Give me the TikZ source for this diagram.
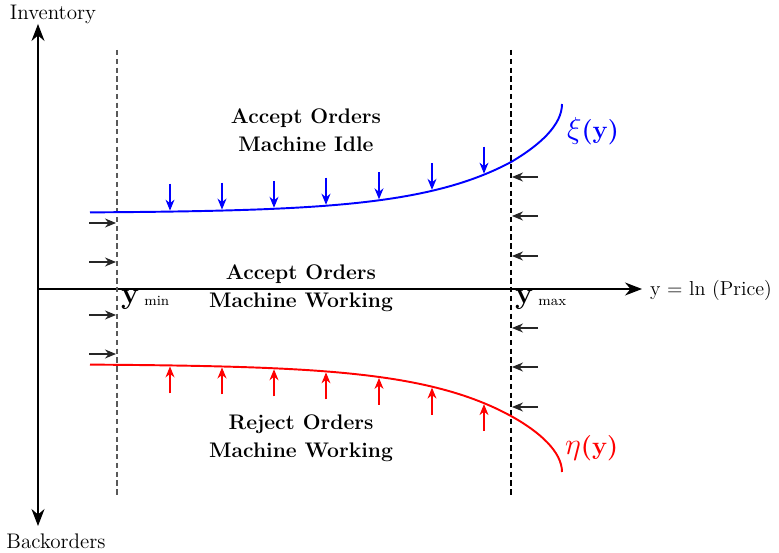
\documentclass[tikz,border=0pt]{standalone}
\usepackage{amsmath,amssymb}
\usepackage{xcolor}
\usepackage{tikz}
\usetikzlibrary{arrows.meta,positioning,calc}
\tikzset{
  axis/.style={-{Stealth[length=3.4mm,width=2.6mm]}, line width=0.6pt, black},
  bound/.style={dashed, dash pattern=on 3pt off 2pt, line width=0.6pt},
  curveline/.style={line width=1.1pt},
  push/.style={-{Stealth[length=2.2mm,width=1.8mm]}, line width=0.6pt},
  region/.style={font=\large\bfseries, align=center},
  axislabel/.style={font=\fontsize{12}{14}\selectfont},
  ylabel/.style={anchor=north west, inner sep=1pt}
}
\newcommand{\ysub}[1]{{\LARGE\bfseries y}\hspace{3pt}\raisebox{-0.3ex}{\footnotesize #1}}

\begin{document}
\begin{tikzpicture}[x=0.02cm, y=-0.02cm]
\useasboundingbox (0,0) rectangle (779,553);
% axes
\coordinate (o) at (38,289);
\coordinate (top) at (38,24);
\coordinate (bot) at (38,526);
\coordinate (right) at (642,289);
\draw[axis] (o) -- (top);
\draw[axis] (o) -- (bot);
\draw[axis] (o) -- (right);
\node[axislabel, anchor=base, inner sep=0pt] (inv) at (53,20) {Inventory};
\node[axislabel, anchor=north] (back) at (56,528) {Backorders};
\node[axislabel, font=\fontsize{11.5}{13}\selectfont, anchor=east] (price) at (778,290) {y = ln (Price)};
% bounds
\coordinate (lo1) at (117,50);
\coordinate (lo2) at (117,497);
\coordinate (hi1) at (511,50);
\coordinate (hi2) at (511,497);
\draw[bound, black!65] (lo1) -- (lo2);
\draw[bound] (hi1) -- (hi2);
\node[ylabel] (ymin) at (119,288) {\ysub{min}};
\node[ylabel] (ymax) at (513,288) {\ysub{max}};
% switching curves
\coordinate (xiend) at (562,104);
\coordinate (etaend) at (562,472);
\draw[curveline, blue] plot[domain=90:511, samples=80] (\x, {213-0.235*exp(\x/95)})
  .. controls (540,145) and (562,125) .. (xiend);
\draw[curveline, red] plot[domain=90:511, samples=80] (\x, {364+0.24*exp(\x/95)})
  .. controls (540,432) and (562,452) .. (etaend);
\node[blue, anchor=west] (xi) at (561,131) {\LARGE$\xi$\textbf{\Large(y)}};
\node[red, anchor=west] (eta) at (559,448) {\LARGE$\eta$\textbf{\Large(y)}};
% vertical pushes
\foreach \i/\x in {1/170, 2/222, 3/274, 4/326, 5/379, 6/432, 7/484} {
  \pgfmathsetmacro{\yb}{213-0.235*exp(\x/95)-1}
  \pgfmathsetmacro{\yr}{364+0.24*exp(\x/95)+1}
  \coordinate (bt\i) at (\x,\yb);
  \coordinate (bs\i) at (\x,\yb-27);
  \draw[push, blue] (bs\i) -- (bt\i);
  \coordinate (rt\i) at (\x,\yr);
  \coordinate (rs\i) at (\x,\yr+27);
  \draw[push, red] (rs\i) -- (rt\i);
}
% horizontal pushes
\foreach \i/\y in {1/223, 2/262, 3/315, 4/354} {
  \coordinate (ls\i) at (89,\y);
  \coordinate (lt\i) at (116,\y);
  \draw[push, black!85] (ls\i) -- (lt\i);
}
\foreach \i/\y in {1/177, 2/216, 3/256, 4/328, 5/367, 6/407} {
  \coordinate (hs\i) at (538,\y);
  \coordinate (ht\i) at (512,\y);
  \draw[push, black!85] (hs\i) -- (ht\i);
}
% regions
\node[region] (idle) at (306,130) {Accept Orders\\[2pt]Machine Idle};
\node[region] (work) at (301,288) {Accept Orders\\[2pt]Machine Working};
\node[region] (reject) at (301,438) {Reject Orders\\[2pt]Machine Working};
\end{tikzpicture}
\end{document}
